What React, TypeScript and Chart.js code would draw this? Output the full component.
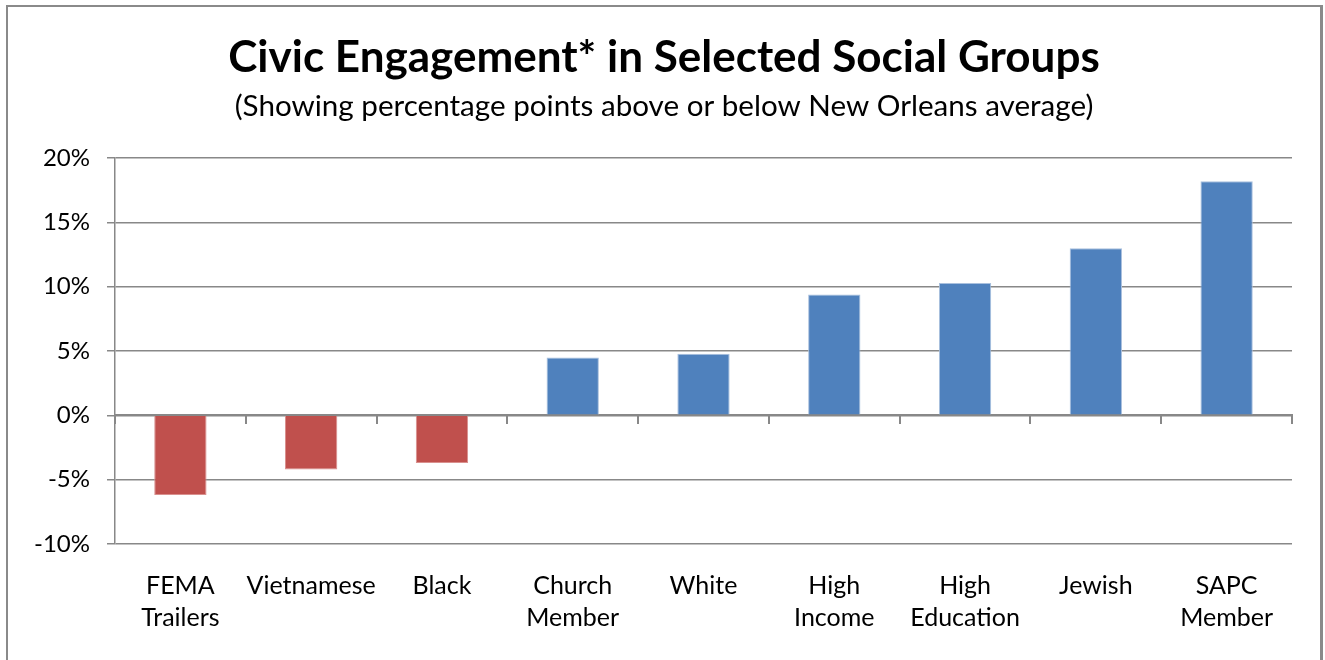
import React, { useEffect, useRef } from 'react';
import { Chart, registerables } from 'chart.js';

Chart.register(...registerables);

const categories: (string | string[])[] = [
  ['FEMA', 'Trailers'],
  'Vietnamese',
  'Black',
  ['Church', 'Member'],
  'White',
  ['High', 'Income'],
  ['High', 'Education'],
  'Jewish',
  ['SAPC', 'Member'],
];

const values: number[] = [-6.2, -4.2, -3.7, 4.5, 4.8, 9.4, 10.3, 13.0, 18.2];

const yMin = -10;
const yMax = 20;
const yStep = 5;

const titleText = 'Civic Engagement* in Selected Social Groups';
const subtitleText = '(Showing percentage points above or below New Orleans average)';

const NEG_COLOR = '#C0504D';
const POS_COLOR = '#4F81BD';
const GRID_COLOR = '#888888';
const FONT = 'Lato, "Open Sans", sans-serif';

export default function App() {
  const ref = useRef<HTMLCanvasElement>(null);

  useEffect(() => {
    if (!ref.current) return;
    const chart = new Chart(ref.current, {
      type: 'bar',
      data: {
        labels: categories,
        datasets: [
          {
            data: values,
            backgroundColor: values.map((v) => (v < 0 ? NEG_COLOR : POS_COLOR)),
            borderColor: values.map((v) => (v < 0 ? '#d9908e' : '#a9c0de')),
            borderWidth: 1,
            categoryPercentage: 1,
            barPercentage: 0.4,
            xAxisID: 'x',
            yAxisID: 'y',
          },
        ],
      },
      options: {
        responsive: false,
        animation: false,
        layout: { padding: { top: 8, left: 10, right: 7, bottom: 0 } },
        plugins: {
          legend: { display: false },
          tooltip: { enabled: false },
          title: {
            display: true,
            text: titleText,
            color: '#000',
            font: { family: FONT, size: 44, weight: 'bold', lineHeight: 1.2 },
            padding: { top: 23.6, bottom: 2 },
          },
          subtitle: {
            display: true,
            text: subtitleText,
            color: '#000',
            font: { family: FONT, size: 29.6, lineHeight: 1.2 },
            padding: { top: 2.4, bottom: 33.8 },
          },
        },
        scales: {
          x: {
            type: 'category',
            position: 'bottom',
            grid: { display: false, drawTicks: false },
            border: { display: false },
            ticks: {
              color: '#000',
              font: { family: FONT, size: 25, lineHeight: '32px' },
              padding: 26,
              maxRotation: 0,
              autoSkip: false,
            },
            afterFit: (s: any) => {
              s.height = 116;
            },
          },
          xZero: {
            type: 'category',
            axis: 'x',
            labels: categories,
            position: { y: 0 },
            offset: true,
            grid: {
              display: true,
              drawOnChartArea: false,
              drawTicks: true,
              tickLength: 8,
              offset: true,
              color: GRID_COLOR,
              lineWidth: 2,
            },
            border: { display: true, color: GRID_COLOR, width: 2 },
            ticks: { display: false },
          },
          y: {
            min: yMin,
            max: yMax,
            ticks: {
              stepSize: yStep,
              color: '#000',
              font: { family: FONT, size: 24 },
              padding: 17,
              callback: (v: any) => `${v}%`,
            },
            grid: { color: GRID_COLOR, lineWidth: 1.5, tickLength: 8 },
            border: { display: true, color: GRID_COLOR, width: 1.5 },
            afterFit: (s: any) => {
              s.width = 105;
            },
          },
          yRight: {
            type: 'linear',
            axis: 'y',
            position: 'right',
            display: true,
            min: yMin,
            max: yMax,
            grid: { display: false, drawTicks: false },
            border: { display: false },
            ticks: { display: false },
            afterFit: (s: any) => {
              s.width = 26;
            },
          },
        },
      } as any,
    });
    return () => chart.destroy();
  }, []);

  return (
    <div
      style={{
        position: 'fixed',
        left: 0,
        top: 0,
        width: 1325,
        height: 660,
        overflow: 'hidden',
        background: '#fff',
      }}
    >
      <div
        style={{
          position: 'absolute',
          left: 6,
          top: 5,
          width: 1317,
          height: 720,
          boxSizing: 'border-box',
          borderStyle: 'solid',
          borderColor: '#8a8a8a',
          borderWidth: '2px 3px 2px 2px',
        }}
      />
      <canvas
        ref={ref}
        width={1325}
        height={660}
        style={{ position: 'absolute', left: 0, top: 0 }}
      />
    </div>
  );
}
